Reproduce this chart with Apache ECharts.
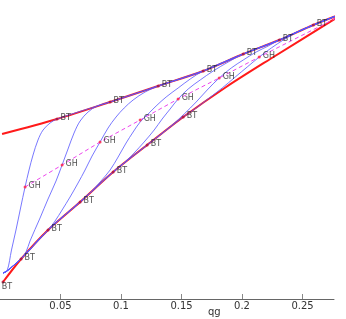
<!DOCTYPE html>
<html>
<head>
<meta charset="utf-8">
<script src="https://cdn.jsdelivr.net/npm/echarts@6/dist/echarts.min.js"></script>
<style>html,body{margin:0;padding:0;background:#fff}#c{width:346px;height:319px}</style>
</head>
<body>
<div id="c"></div>
<script>
// x axis ticks
var xTicks = [0.05, 0.1, 0.15, 0.2, 0.25];
// upper red branch [qg, y]
var upperRed = [[0.0017,1.65],[0.0471,1.80],[0.0910,1.97],[0.1307,2.13],[0.1679,2.28],[0.2010,2.45],[0.2308,2.59],[0.2589,2.74],[0.2862,2.87]];
// lower red branch
var lowerRed = [[0.0025,0.17],[0.0174,0.40],[0.0397,0.69],[0.0662,0.97],[0.0935,1.27],[0.1216,1.54],[0.1514,1.82],[0.1869,2.12],[0.2233,2.40],[0.2845,2.86]];
// GH dashed line
var ghLine = [[0.0207,1.12],[0.0513,1.34],[0.0827,1.57],[0.1158,1.79],[0.1472,2.00],[0.1811,2.21],[0.2142,2.42],[0.2812,2.83]];
// common start of the blue family
var blueStart = [[0.0025,0.26],[0.0058,0.28],[0.0116,0.34]];
// blue curves: from lower BT to upper BT
var blue1 = [[0.0025,0.26],[0.0058,0.28],[0.0095,0.49],[0.0132,0.69],[0.0170,0.91],[0.0207,1.12],[0.0240,1.29],[0.0273,1.44],[0.0314,1.59],[0.0356,1.69],[0.0414,1.76],[0.0471,1.80]];
var blue2 = [[0.0174,0.40],[0.0215,0.47],[0.0248,0.58],[0.0331,0.81],[0.0397,1.00],[0.0463,1.18],[0.0513,1.34],[0.0562,1.50],[0.0612,1.66],[0.0662,1.78],[0.0728,1.87],[0.0802,1.93],[0.0910,1.97]];
var blue3 = [[0.0397,0.69],[0.0455,0.78],[0.0513,0.89],[0.0579,1.02],[0.0645,1.16],[0.0703,1.29],[0.0761,1.43],[0.0827,1.57],[0.0893,1.71],[0.0959,1.82],[0.1026,1.91],[0.1100,1.99],[0.1199,2.07],[0.1307,2.13]];
var blue4 = [[0.0662,0.97],[0.0744,1.06],[0.0827,1.17],[0.0910,1.29],[0.0976,1.42],[0.1042,1.56],[0.1100,1.67],[0.1158,1.77],[0.1224,1.85],[0.1290,1.93],[0.1373,2.02],[0.1472,2.11],[0.1572,2.20],[0.1679,2.28]];
var blue5 = [[0.0935,1.27],[0.1026,1.36],[0.1108,1.46],[0.1191,1.57],[0.1274,1.69],[0.1340,1.80],[0.1406,1.90],[0.1472,2.00],[0.1555,2.10],[0.1654,2.19],[0.1762,2.28],[0.1886,2.37],[0.2010,2.45]];
var blue6 = [[0.1216,1.54],[0.1323,1.64],[0.1423,1.74],[0.1522,1.85],[0.1621,1.97],[0.1712,2.09],[0.1811,2.21],[0.1911,2.31],[0.2010,2.39],[0.2117,2.47],[0.2217,2.53],[0.2308,2.59]];
var blue7 = [[0.1514,1.82],[0.1621,1.91],[0.1729,2.01],[0.1836,2.11],[0.1944,2.22],[0.2043,2.32],[0.2142,2.42],[0.2242,2.51],[0.2341,2.59],[0.2440,2.66],[0.2514,2.70],[0.2589,2.74]];

var blues = [blue1, blue2, blue3, blue4, blue5, blue6, blue7];

function buildBlue(k) {
  var pts = [];
  if (k > 0) {
    pts = pts.concat(blueStart);
    for (var i = 1; i < k; i++) pts.push(lowerRed[i]);
    pts = pts.concat(blues[k]);
  } else {
    pts = pts.concat(blues[0]);
  }
  for (var j = k + 2; j < upperRed.length; j++) pts.push(upperRed[j]);
  return pts;
}

var btPts = [];
for (var i = 0; i < 7; i++) btPts.push(lowerRed[i]);
for (var i = 1; i < 8; i++) btPts.push(upperRed[i]);
var ghPts = ghLine.slice(0, 7);

var series = [];
series.push({type:'line', data: lowerRed, smooth:0.3, symbol:'none', clip:false, lineStyle:{color:'#ff1a1a', width:2}, z:2});
series.push({type:'line', data: upperRed, smooth:0.3, symbol:'none', clip:false, lineStyle:{color:'#ff1a1a', width:2}, z:2});
for (var k = 0; k < 7; k++) {
  series.push({type:'line', data: buildBlue(k), smooth:0.35, symbol:'none', clip:false, lineStyle:{color:'#5555ff', width:0.8}, z:3});
}
series.push({type:'line', data: ghLine, smooth:false, symbol:'none', clip:false, lineStyle:{color:'#ee44ee', width:1, type:[4,3]}, z:4});
var lblStyle = {show:true, position:'right', distance:2, offset:[0,-1], fontSize:8, fontFamily:'DejaVu Sans', color:'#222'};
series.push({type:'scatter', data: btPts.map(function(p, i){
    var d = {value:p};
    if (i === 0) d.label = {position:'bottom', offset:[4,-3]};
    return d;
  }), symbol:'circle', symbolSize:3, clip:false, itemStyle:{color:'#b0103a'},
  label: Object.assign({}, lblStyle, {formatter:'BT'}), z:5});
series.push({type:'scatter', data: ghPts, symbol:'circle', symbolSize:3, clip:false, itemStyle:{color:'#ff2040'},
  label: Object.assign({}, lblStyle, {formatter:'GH'}), z:5});

var chart = echarts.init(document.getElementById('c'));
chart.setOption({
  animation:false,
  backgroundColor:'#fff',
  grid:{left:0, right:12, top:2, bottom:20},
  xAxis:{type:'value', min:0, max:0.276,
    axisLine:{lineStyle:{color:'#666', width:1}},
    axisTick:{inside:true, length:5, lineStyle:{color:'#888'}, customValues:xTicks},
    axisLabel:{customValues:xTicks, margin:2, fontSize:10, fontFamily:'DejaVu Sans', color:'#333'},
    splitLine:{show:false}},
  yAxis:{type:'value', min:0, max:2.97, show:false},
  graphic:[{type:'text', left:208, top:307, style:{text:'qg', fontSize:10, fontFamily:'DejaVu Sans', fill:'#333'}}],
  series: series
});
</script>
</body>
</html>
